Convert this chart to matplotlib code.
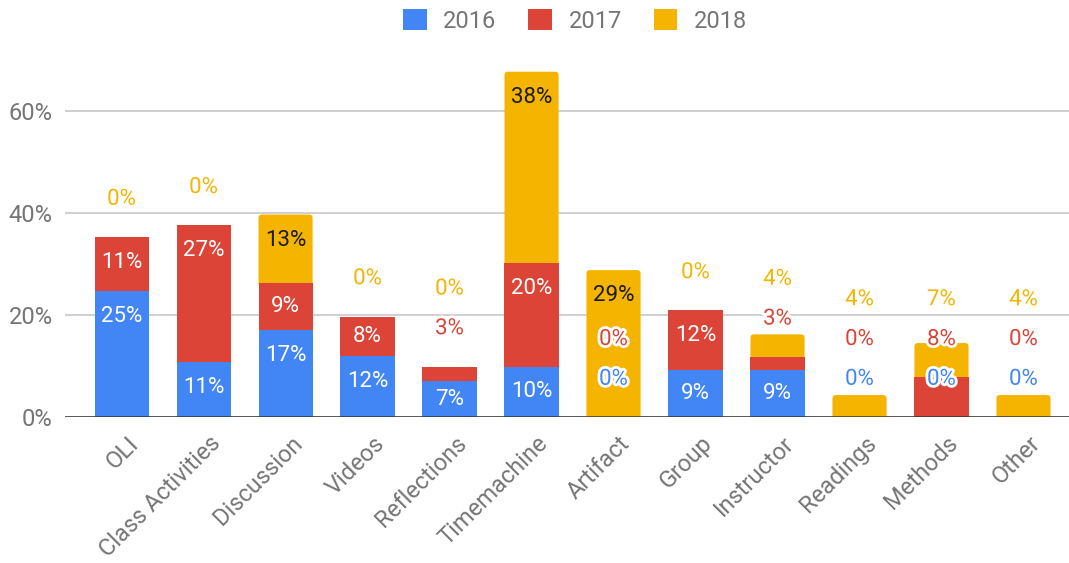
import matplotlib
matplotlib.use("Agg")
import matplotlib.pyplot as plt
import matplotlib.patheffects as pe
from matplotlib.patches import Patch, FancyBboxPatch
from matplotlib.transforms import ScaledTranslation
import numpy as np

categories = ['OLI', 'Class Activities', 'Discussion', 'Videos', 'Reflections', 'Timemachine',
              'Artifact', 'Group', 'Instructor', 'Readings', 'Methods', 'Other']
years = ['2016', '2017', '2018']
v2016 = [24.7, 10.8, 17.0, 11.9, 7.0, 9.9, 0, 9.2, 9.2, 0, 0, 0]
v2017 = [10.6, 26.8, 9.3, 7.8, 2.9, 20.2, 0, 11.7, 2.6, 0, 7.8, 0]
v2018 = [0, 0, 13.4, 0, 0, 37.6, 28.8, 0, 4.4, 4.3, 6.7, 4.3]
yticks = [0, 20, 40, 60]

colors = ['#4285F4', '#DB4437', '#F4B400']
inside_text = ['white', 'white', '#1a1a1a']
grey = '#757575'

plt.rcParams['font.family'] = ['Roboto', 'DejaVu Sans']

fig = plt.figure(figsize=(10.69, 5.63), dpi=100)
ax = fig.add_axes([65 / 1069, 146 / 563, 1004 / 1069, 357 / 563])
ax.set_xlim(-0.69, 11.555)
ax.set_ylim(0, 70)

x = np.arange(len(categories))
series = [np.array(v2016), np.array(v2017), np.array(v2018)]
bottom = np.zeros(len(categories))
for s, (vals, col) in enumerate(zip(series, colors)):
    bars = ax.bar(x, vals, bottom=bottom, width=0.66, color=col, zorder=3)
    if s == len(series) - 1:
        # last series gets slightly rounded top corners, like the original
        for r in bars:
            if r.get_height() <= 0:
                continue
            r.set_visible(False)
            ext = 0.7
            ax.add_patch(FancyBboxPatch((r.get_x(), r.get_y() - ext), r.get_width(),
                                        r.get_height() + ext,
                                        boxstyle='round,pad=0,rounding_size=0.042',
                                        mutation_aspect=16, facecolor=col,
                                        edgecolor='none', zorder=2.9))
    bottom = bottom + vals

# data labels: inside near the top of a segment when it fits, else stacked above
INSIDE_OFF, OUT_OFF, GAP, MIN_SEG = 5.0, 7.4, 7.8, 5.5
for i in range(len(categories)):
    base = 0.0
    prev = -1e9
    for s, vals in enumerate(series):
        h = vals[i]
        top = base + h
        txt = '{:.0f}%'.format(h)
        y_in = max(top - INSIDE_OFF, (base + top) / 2)
        if h >= MIN_SEG and y_in >= prev + GAP:
            ax.text(i, y_in, txt, ha='center', va='center', fontsize=16,
                    color=inside_text[s], zorder=5)
            prev = y_in
        else:
            y_out = max(top + OUT_OFF, prev + GAP)
            ax.text(i, y_out, txt, ha='center', va='center', fontsize=16,
                    color=colors[s], zorder=6,
                    path_effects=[pe.withStroke(linewidth=4, foreground='white')])
            prev = y_out
        base = top

ax.set_yticks(yticks)
ax.set_yticklabels(['{}%'.format(t) for t in yticks])
ax.tick_params(axis='y', length=0, pad=9, labelsize=17, labelcolor=grey)
ax.set_xticks([])
ax.yaxis.grid(True, color='#cccccc', linewidth=1.3, zorder=0)
ax.axhline(0, color='#333333', linewidth=1.8, zorder=4)
for sp in ax.spines.values():
    sp.set_visible(False)

offset = ScaledTranslation(5 / 100, -15 / 100, fig.dpi_scale_trans)
for i, name in enumerate(categories):
    ax.text(i, 0, name, transform=ax.get_xaxis_transform() + offset,
            rotation=45, ha='right', va='top', rotation_mode='anchor',
            fontsize=17, color=grey)

handles = [Patch(facecolor=c, edgecolor='none') for c in colors]
fig.legend(handles, years, loc='center', bbox_to_anchor=(0.538, 0.963), ncol=3,
           frameon=False, fontsize=17, labelcolor=grey, handlelength=1.0,
           handleheight=1.0, handletextpad=0.7, columnspacing=1.35)

fig.savefig('out.png', dpi=100)
